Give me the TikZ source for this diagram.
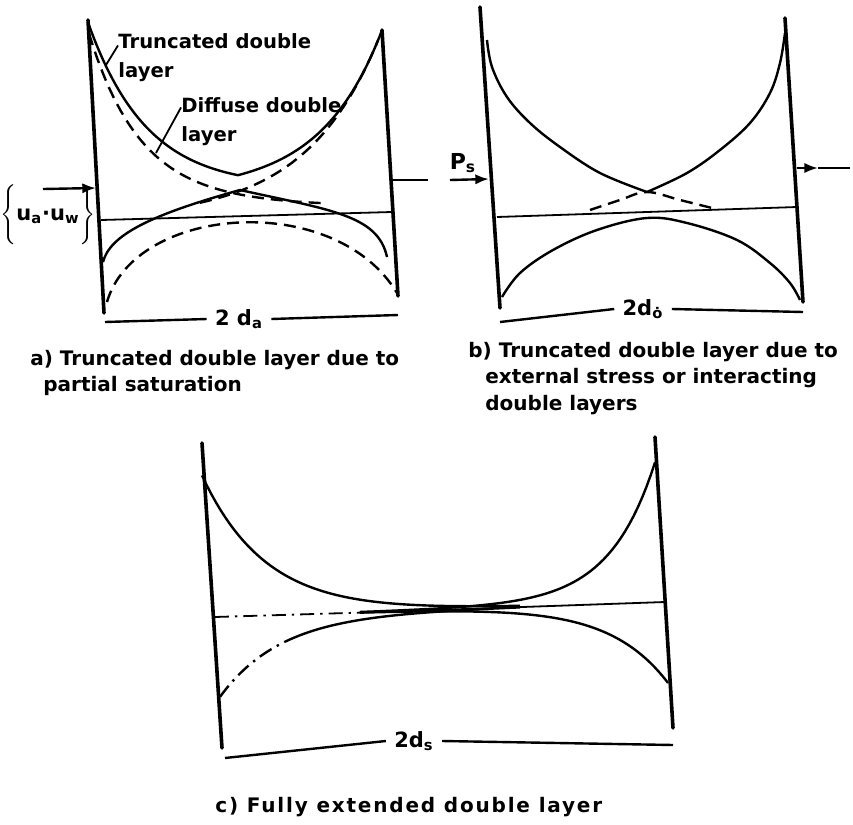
\documentclass[tikz,border=0pt]{standalone}
\usepackage{fontspec}
\setmainfont{DejaVu Sans}
\usetikzlibrary{arrows.meta}

\begin{document}
\begin{tikzpicture}[
  x=0.5pt, y=-0.5pt,
  wall/.style={line width=1.8pt, line cap=round},
  curve/.style={line width=1.2pt},
  diff/.style={curve, dash pattern=on 6pt off 3.5pt},
  chain/.style={curve, dash pattern=on 7pt off 3pt on 1.2pt off 3pt},
  midl/.style={line width=0.9pt},
  push/.style={line width=1.2pt, -{Latex[length=2.4mm, width=1.8mm]}},
  span/.style={line width=1.2pt},
  lead/.style={line width=0.9pt},
  lbl/.style={font=\fontsize{9.8}{14.5}\selectfont\bfseries, align=left, inner sep=0pt},
  dist/.style={font=\fontsize{10.5}{12}\selectfont\bfseries, inner xsep=4pt, inner ysep=0pt},
  capt/.style={font=\fontsize{10}{13.2}\selectfont\bfseries, align=left,
               anchor=north west, inner sep=0pt},
]
\useasboundingbox (0,0) rectangle (853,825);

% ============ a) truncated, partial saturation ==============================
\draw[wall] (88,20) -- (104,313);
\draw[wall] (382,30) -- (398,296);
\draw[midl] (101,220) -- (392,212);

% truncated layer
\draw[curve] plot[domain=88:238, samples=50]
  (\x, {220-0.0275*(\x-101) - 27 - 171*exp(-(\x-88)/60)});
\draw[curve] plot[domain=238:382, samples=50]
  (\x, {220-0.0275*(\x-101) - 27 - 155*exp(-(382-\x)/60)});
\draw[curve] (103,262) .. controls (110,235) and (150,215) .. (240,190);
\draw[curve] (240,190) .. controls (330,210) and (378,215) .. (387,257);
% diffuse layer
\draw[diff] plot[domain=89:325, samples=60]
  (\x, {220-0.0275*(\x-101) - 160*exp(-(\x-88)/50) - 30*exp(-(\x-88)/200)});
\draw[diff] plot[domain=200:378, samples=60]
  (\x, {220-0.0275*(\x-101) - 172*exp(-(378-\x)/72)});
\draw[diff] (107,302) .. controls (135,205) and (335,190) .. (397,293);

\node[lbl, anchor=north west] (lblTrunc) at (118,33) {Truncated double\\layer};
\node[lbl, anchor=north west] (lblDiff)  at (181,97) {Diffuse double\\layer};
\coordinate (tipTrunc) at (106,65);
\coordinate (tipDiff)  at (156,153);
\draw[lead] ([yshift=6pt]lblTrunc.west) -- (tipTrunc);
\draw[lead] ([yshift=7pt]lblDiff.west)  -- (tipDiff);

\node[lbl, font=\fontsize{10.5}{12}\selectfont\bfseries] (lblSuct) at (48,215)
  {$\left\{\rule[-12pt]{0pt}{27pt}\mbox{u\textsubscript{a}·u\textsubscript{w}}\right\}$};
\coordinate (aPushL) at (43,189);
\coordinate (aWallL) at (96,188);
\draw[push] (aPushL) -- (aWallL);
\coordinate (aWallR) at (393,180);
\coordinate (aPushR) at (428,180);
\draw[span] (aWallR) -- (aPushR);

\node[dist] (spanA) at (239,319) {2 d\textsubscript{a}};
\draw[span] (105,322) -- (spanA.west);
\draw[span] (spanA.east) -- (398,315);

\node[capt] (capA) at (30,350)
  {a) Truncated double layer due to\\\hspace*{6.5pt}partial saturation};

% ============ b) truncated, external stress ================================
\draw[wall] (480,7) -- (500,308);
\draw[wall] (785,18) -- (803,302);
\draw[midl] (497,217) -- (797,207);

\draw[curve] plot[smooth, tension=0.6] coordinates
  {(487,40) (492,67) (507,97) (530,123) (560,147) (600,173) (647,192)};
\draw[curve] plot[smooth, tension=0.6] coordinates
  {(647,192) (687,173) (720,150) (750,123) (770,93) (780,63) (785,33)};
\draw[curve] plot[smooth, tension=0.6] coordinates
  {(502,297) (520,273) (553,250) (597,230) (647,218) (687,223) (737,240)
   (770,263) (790,283) (800,300)};
\draw[diff] plot[smooth, tension=0.6] coordinates
  {(590,210) (620,200) (647,192) (680,200) (712,208)};

\node[lbl, font=\fontsize{11}{12}\selectfont\bfseries] (lblPs) at (463,163) {P\textsubscript{s}};
\coordinate (bPushL) at (450,180);
\coordinate (bWallL) at (489,179);
\draw[push] (bPushL) -- (bWallL);
\coordinate (bWallR) at (797,168);
\coordinate (bHead)  at (818,168);
\coordinate (bPushR) at (850,168);
\draw[push] (bWallR) -- (bHead);
\draw[span] (bHead) -- (bPushR);

\node[dist] (spanB) at (643,309) {2d\textsubscript{\.o}};
\draw[span] (500,322) -- (spanB.west);
\draw[span] (spanB.east) -- (803,312);

\node[capt] (capB) at (468,342)
  {b) Truncated double layer due to\\\hspace*{8.5pt}external stress or interacting\\
   \hspace*{8.5pt}double layers};

% ============ c) fully extended ============================================
\draw[wall] (202,443) -- (222,748);
\draw[wall] (655,437) -- (673,728);
\draw[midl, dash pattern=on 7pt off 3pt on 1.2pt off 3pt] (215,617) -- (380,612);
\draw[midl] (380,612) -- (665,602);

\draw[curve] plot[domain=202:520, samples=70]
  (\x, {617-(\x-215)/30 - 142*exp(-(\x-202)/65)});
\draw[curve] plot[domain=360:655, samples=70]
  (\x, {617-(\x-215)/30 - 140*exp(-(655-\x)/45)});
\draw[chain] plot[domain=220:285, samples=25]
  (\x, {617-(\x-215)/30 + 80*exp(-(\x-220)/60)});
\draw[curve] plot[domain=285:520, samples=50]
  (\x, {617-(\x-215)/30 + 80*exp(-(\x-220)/60)});
\draw[curve] plot[domain=360:668, samples=70]
  (\x, {617-(\x-215)/30 + 81*exp(-(668-\x)/60)});

\node[dist] (spanC) at (414,741) {2d\textsubscript{s}};
\draw[span] (225,758) -- (spanC.west);
\draw[span] (spanC.east) -- (673,745);

\node[capt] (capC) at (215,797)
  {\addfontfeature{LetterSpace=9}c) Fully extended double layer};

\end{tikzpicture}
\end{document}
